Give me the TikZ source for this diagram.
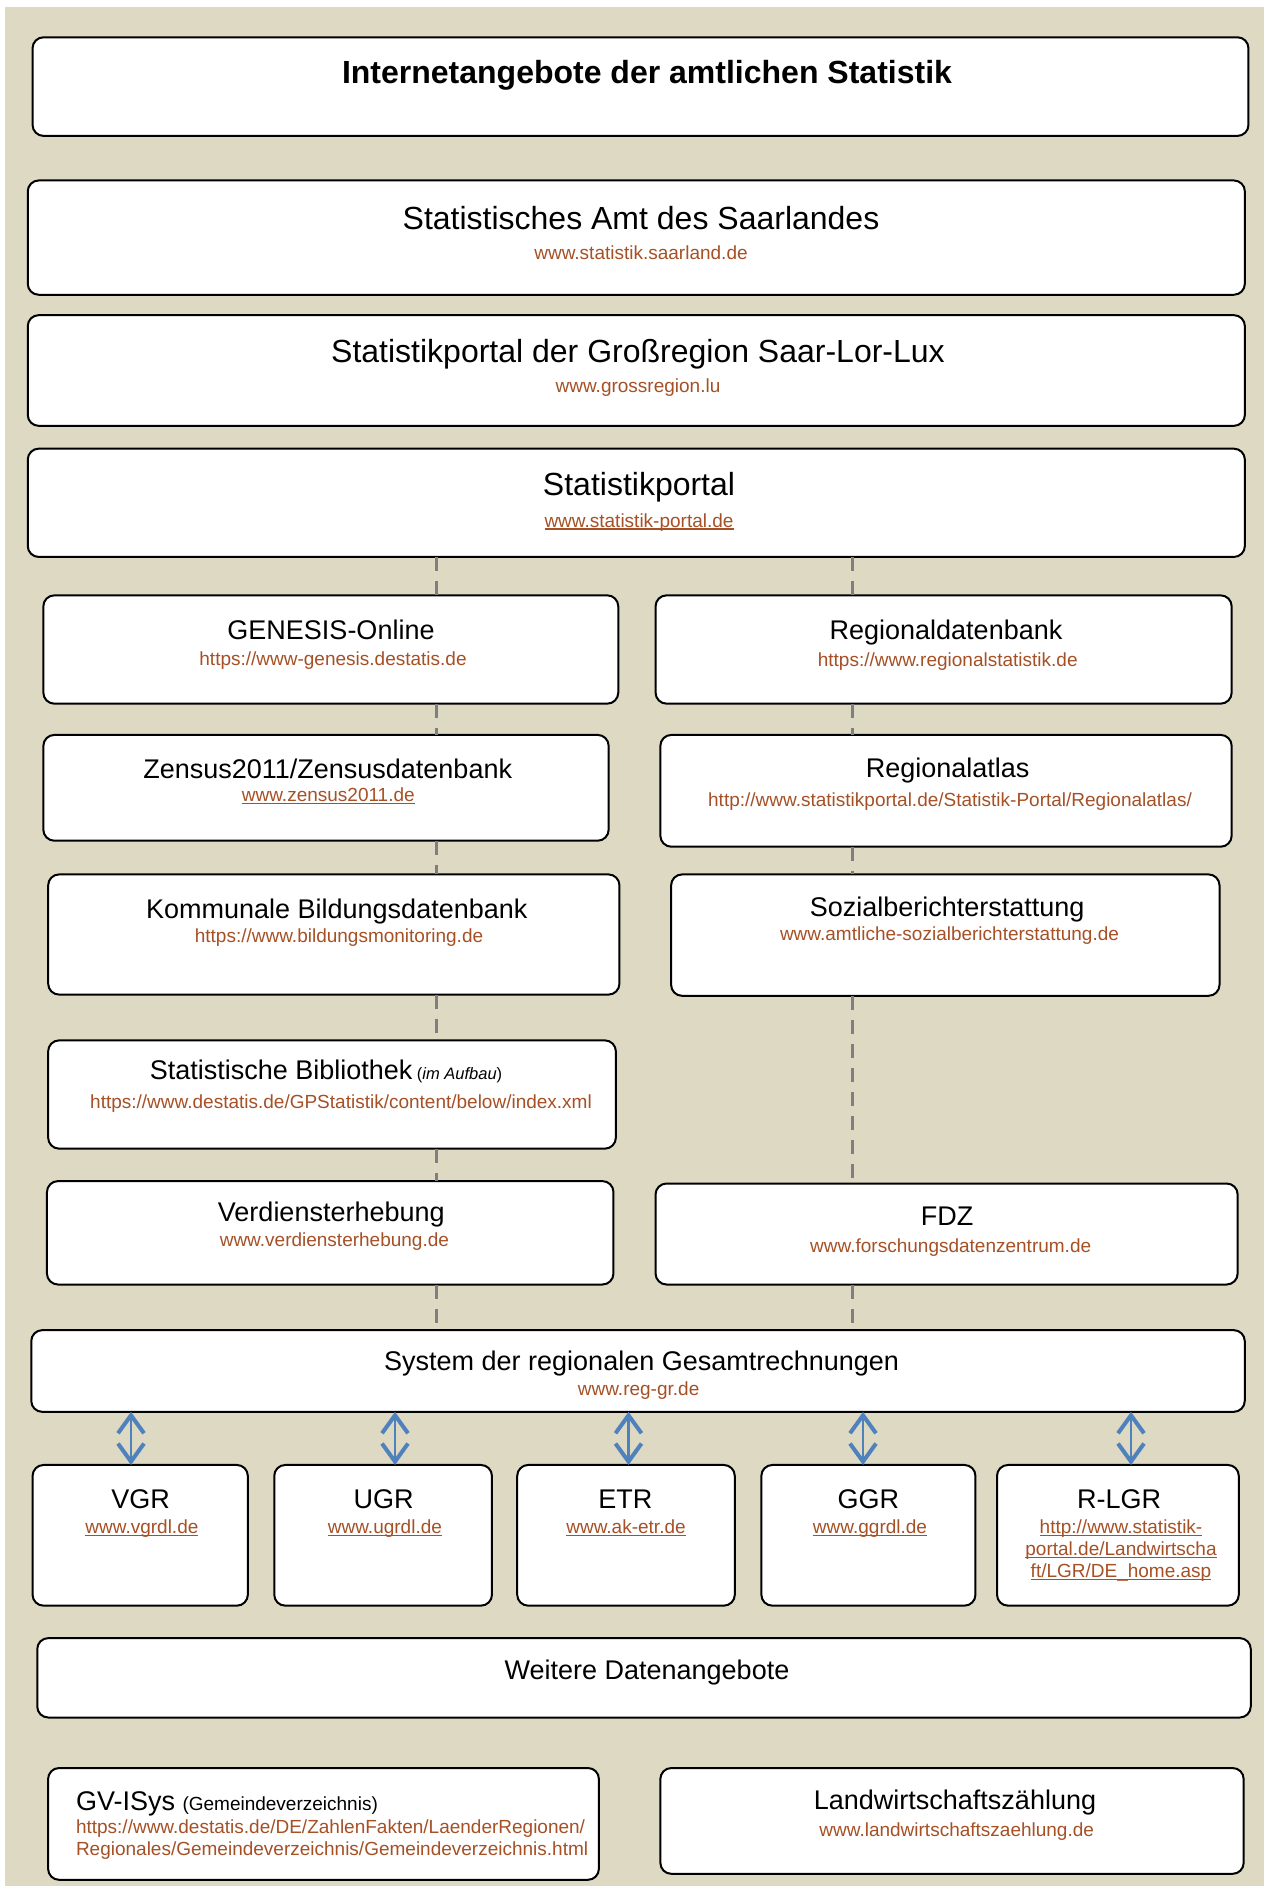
\documentclass[tikz,border=0pt]{standalone}
\usepackage{fontspec}
\setmainfont{Liberation Sans}
\usetikzlibrary{arrows.meta}
\definecolor{bgc}{HTML}{DDD9C3}
\definecolor{urlc}{RGB}{166,80,38}
\definecolor{dashc}{HTML}{7F7F7F}
\definecolor{arrc}{HTML}{4F81BD}
\newcommand{\ulink}[1]{\setbox0\hbox{#1}\rlap{\rule[-2.6pt]{\wd0}{1.3pt}}\box0}
\begin{document}
\begin{tikzpicture}[x=1pt,y=-1pt,
  box/.style={draw=black,line width=2pt,fill=white,rounded corners=11pt,inner sep=0pt,outer sep=0pt},
  ttlA/.style={font=\fontsize{32}{36}\selectfont,inner sep=0pt,anchor=base},
  ttlB/.style={font=\fontsize{27}{31}\selectfont,inner sep=0pt,anchor=base},
  urlt/.style={font=\fontsize{19}{22}\selectfont,text=urlc,inner sep=0pt,anchor=base},
  conn/.style={dashc,line width=3.2pt,dash pattern=on 14pt off 10pt},
  darr/.style={arrc,line width=2.5pt,>={Straight Barb[length=18pt,width=26pt,line width=4pt]},<->}]
\fill[white] (0,0) rectangle (1264,1886);
\fill[bgc] (5,7) rectangle (1264,1886);
\useasboundingbox (0,0) rectangle (1264,1886);

% boxes
\node[box,minimum width=1215.9pt,minimum height=98.6pt] (head) at (640.5,86.6) {};
\node[box,minimum width=1217.1pt,minimum height=114.3pt] (amt) at (636.3,237.6) {};
\node[box,minimum width=1217.1pt,minimum height=110.7pt] (gr) at (636.3,370.5) {};
\node[box,minimum width=1217.1pt,minimum height=108.3pt] (sp) at (636.3,502.8) {};
\node[box,minimum width=574.9pt,minimum height=108.3pt] (gen) at (330.8,649.5) {};
\node[box,minimum width=576.1pt,minimum height=108.3pt] (rdb) at (943.6,649.5) {};
\node[box,minimum width=565.3pt,minimum height=105.8pt] (zen) at (326,787.8) {};
\node[box,minimum width=571.3pt,minimum height=111.8pt] (ra) at (946,790.8) {};
\node[box,minimum width=571.3pt,minimum height=120.2pt] (kbd) at (333.8,934.5) {};
\node[box,minimum width=548.4pt,minimum height=121.4pt] (soz) at (945.3,935.1) {};
\node[box,minimum width=567.7pt,minimum height=108.3pt] (bib) at (332,1094.5) {};
\node[box,minimum width=566.5pt,minimum height=103.4pt] (ver) at (330.2,1232.8) {};
\node[box,minimum width=582.1pt,minimum height=101pt] (fdz) at (946.6,1234) {};
\node[box,minimum width=1213.5pt,minimum height=81.7pt] (sys) at (638,1371) {};
\node[box,minimum width=215.3pt,minimum height=140.7pt] (vgr) at (140.2,1535.3) {};
\node[box,minimum width=217.7pt,minimum height=140.7pt] (ugr) at (383.1,1535.3) {};
\node[box,minimum width=217.6pt,minimum height=140.7pt] (etr) at (626,1535.3) {};
\node[box,minimum width=214.1pt,minimum height=140.7pt] (ggr) at (868.4,1535.3) {};
\node[box,minimum width=241.8pt,minimum height=140.7pt] (rlgr) at (1117.9,1535.3) {};
\node[box,minimum width=1213.5pt,minimum height=79.4pt] (wd) at (644,1677.8) {};
\node[box,minimum width=550.8pt,minimum height=111.8pt] (gv) at (323.5,1823.9) {};
\node[box,minimum width=583.3pt,minimum height=105.8pt] (lwz) at (952,1820.9) {};

% texts
\node[ttlA,font=\bfseries\fontsize{32}{36}\selectfont] (head-t) at (647,84) {Internetangebote der amtlichen Statistik};
\node[ttlA] (amt-t) at (641,229.3) {Statistisches Amt des Saarlandes};
\node[urlt] (amt-u) at (641,259.5) {www.statistik.saarland.de};
\node[ttlA] (gr-t) at (638,362.7) {Statistikportal der Großregion Saar-Lor-Lux};
\node[urlt] (gr-u) at (638,392.5) {www.grossregion.lu};
\node[ttlA] (sp-t) at (639,495) {Statistikportal};
\node[urlt] (sp-u) at (639,527) {\ulink{www.statistik-portal.de}};
\node[ttlB] (gen-t) at (331,639.5) {GENESIS-Online};
\node[urlt] (gen-u) at (333,665.5) {https://www-genesis.destatis.de};
\node[ttlB] (rdb-t) at (946,639.5) {Regionaldatenbank};
\node[urlt] (rdb-u) at (947.7,666) {https://www.regionalstatistik.de};
\node[ttlB] (zen-t) at (327.7,778.3) {Zensus2011/Zensusdatenbank};
\node[urlt] (zen-u) at (328.3,801.7) {\ulink{www.zensus2011.de}};
\node[ttlB] (ra-t) at (947.7,777.3) {Regionalatlas};
\node[urlt] (ra-u) at (950,806) {http://www.statistikportal.de/Statistik-Portal/Regionalatlas/};
\node[ttlB] (kbd-t) at (336.8,918.3) {Kommunale Bildungsdatenbank};
\node[urlt] (kbd-u) at (339,942.7) {https://www.bildungsmonitoring.de};
\node[ttlB] (soz-t) at (947.1,916.7) {Sozialberichterstattung};
\node[urlt] (soz-u) at (949.5,940.7) {www.amtliche-sozialberichterstattung.de};
\node[ttlB] (bib-t) at (326,1079.3) {Statistische Bibliothek\,{\fontsize{16.5}{20}\selectfont(\textit{im Aufbau})}};
\node[urlt] (bib-u) at (341,1108.3) {https://www.destatis.de/GPStatistik/content/below/index.xml};
\node[ttlB] (ver-t) at (331.3,1221.7) {Verdiensterhebung};
\node[urlt] (ver-u) at (334.4,1246.7) {www.verdiensterhebung.de};
\node[ttlB] (fdz-t) at (947.1,1225) {FDZ};
\node[urlt] (fdz-u) at (950.7,1252.7) {www.forschungsdatenzentrum.de};
\node[ttlB] (sys-t) at (641.6,1370) {System der regionalen Gesamtrechnungen};
\node[urlt] (sys-u) at (638.6,1395) {www.reg-gr.de};
\node[ttlB] (vgr-t) at (140.7,1508.3) {VGR};
\node[urlt] (vgr-u) at (141.9,1533.3) {\ulink{www.vgrdl.de}};
\node[ttlB] (ugr-t) at (383.7,1508.3) {UGR};
\node[urlt] (ugr-u) at (384.9,1533.3) {\ulink{www.ugrdl.de}};
\node[ttlB] (etr-t) at (625.4,1508.3) {ETR};
\node[urlt] (etr-u) at (626,1533.3) {\ulink{www.ak-etr.de}};
\node[ttlB] (ggr-t) at (868.4,1508.3) {GGR};
\node[urlt] (ggr-u) at (870,1533.3) {\ulink{www.ggrdl.de}};
\node[ttlB] (rlgr-t) at (1119.1,1508.3) {R-LGR};
\node[urlt] (rlgr-u1) at (1121,1533.3) {\ulink{http://www.statistik-}};
\node[urlt] (rlgr-u2) at (1121,1555.5) {\ulink{portal.de/Landwirtscha}};
\node[urlt] (rlgr-u3) at (1121,1577.5) {\ulink{ft/LGR/DE\_home.asp}};
\node[ttlB] (wd-t) at (647,1679.3) {Weitere Datenangebote};
\node[ttlB,anchor=base west] (gv-t) at (75.8,1810) {GV-ISys {\fontsize{19}{22}\selectfont(Gemeindeverzeichnis)}};
\node[urlt,anchor=base west] (gv-u1) at (75.8,1833.3) {https://www.destatis.de/DE/ZahlenFakten/LaenderRegionen/};
\node[urlt,anchor=base west] (gv-u2) at (75.8,1855) {Regionales/Gemeindeverzeichnis/Gemeindeverzeichnis.html};
\node[ttlB] (lwz-t) at (955,1809.3) {Landwirtschaftszählung};
\node[urlt] (lwz-u) at (956.7,1836.7) {www.landwirtschaftszaehlung.de};

% dashed connectors
\coordinate (cL) at (436.6,0);
\coordinate (cR) at (852.7,0);
\draw[conn] (sp.south -| cL) -- (gen.north -| cL);
\draw[conn] (gen.south -| cL) -- (zen.north -| cL);
\draw[conn] (zen.south -| cL) -- (kbd.north -| cL);
\draw[conn] (kbd.south -| cL) -- (bib.north -| cL);
\draw[conn] (bib.south -| cL) -- (ver.north -| cL);
\draw[conn] (ver.south -| cL) -- (sys.north -| cL);
\draw[conn] (sp.south -| cR) -- (rdb.north -| cR);
\draw[conn] (rdb.south -| cR) -- (ra.north -| cR);
\draw[conn] (ra.south -| cR) -- (soz.north -| cR);
\draw[conn] (soz.south -| cR) -- (fdz.north -| cR);
\draw[conn] (fdz.south -| cR) -- (sys.north -| cR);

% double arrows
\coordinate (a1) at (131,0);
\coordinate (a2) at (395,0);
\coordinate (a3) at (628.5,0);
\coordinate (a4) at (863,0);
\coordinate (a5) at (1131,0);
\draw[darr] (sys.south -| a1) -- (vgr.north -| a1);
\draw[darr] (sys.south -| a2) -- (ugr.north -| a2);
\draw[darr] (sys.south -| a3) -- (etr.north -| a3);
\draw[darr] (sys.south -| a4) -- (ggr.north -| a4);
\draw[darr] (sys.south -| a5) -- (rlgr.north -| a5);
\end{tikzpicture}
\end{document}
